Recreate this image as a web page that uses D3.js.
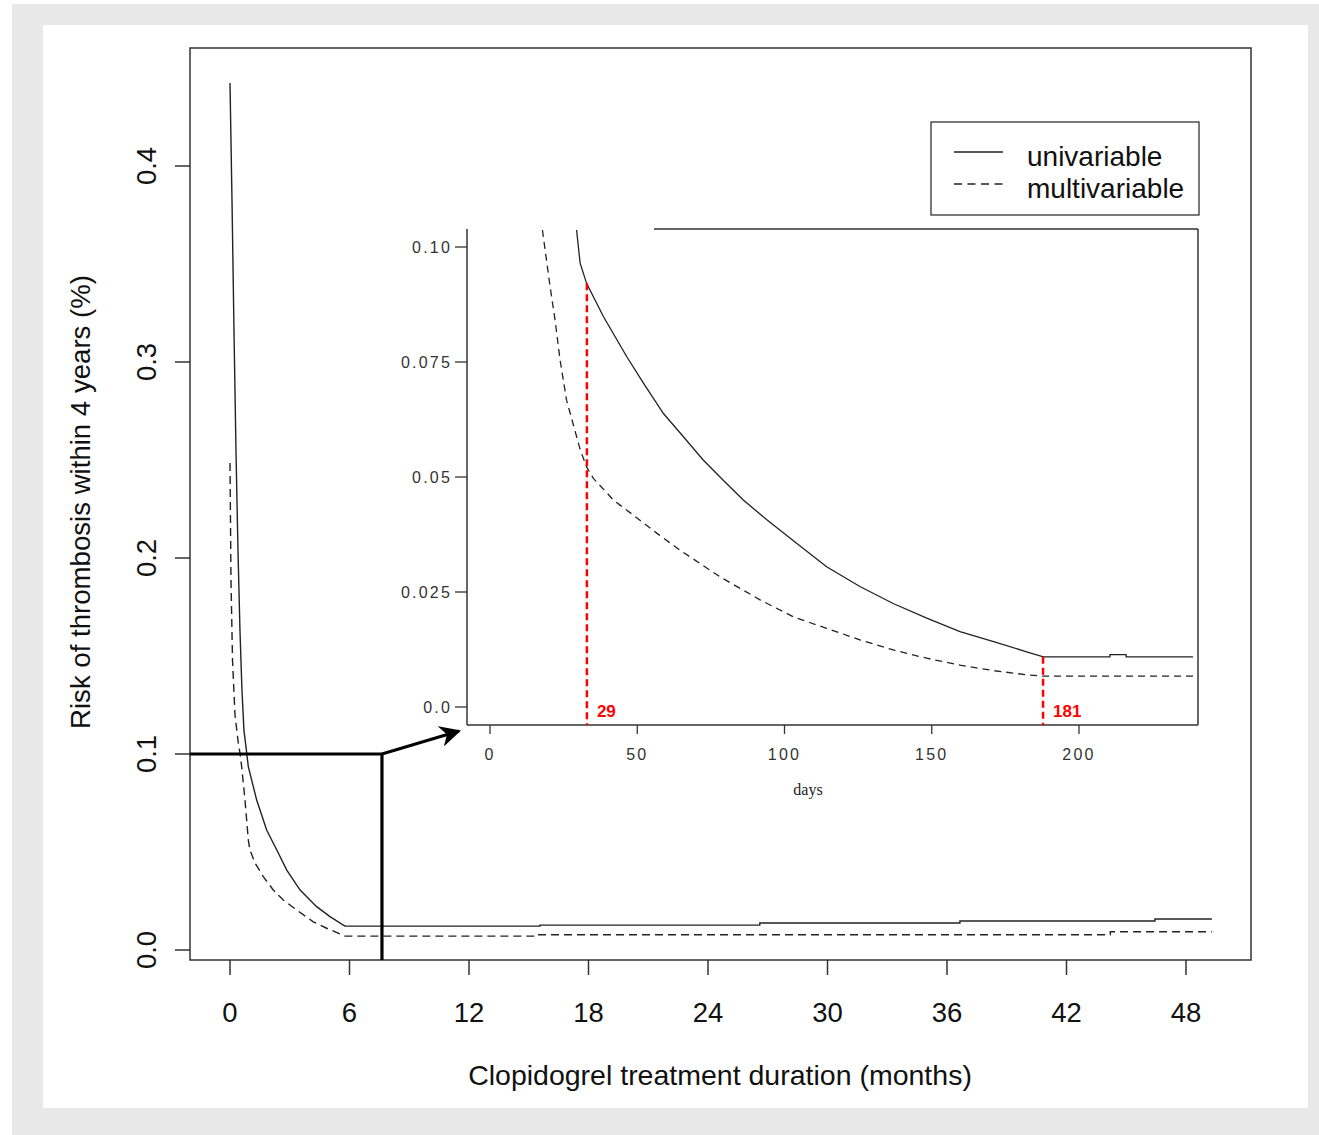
<!DOCTYPE html>
<html><head><meta charset="utf-8">
<script src="https://cdn.jsdelivr.net/npm/d3@7"></script>
<style>body{margin:0;background:#fff}svg{display:block}</style>
</head><body>
<script>
// ---------- data ----------
const mainXTicks = [0, 6, 12, 18, 24, 30, 36, 42, 48];
const mainYTicks = [0.0, 0.1, 0.2, 0.3, 0.4];
const mainYTickLabels = ["0.0", "0.1", "0.2", "0.3", "0.4"];
// main chart: months, risk
const uniMonths = [0, 0.10, 0.20, 0.30, 0.40, 0.50, 0.60, 0.70, 0.84, 0.92, 1.34, 1.84, 2.35, 2.85, 3.52, 4.35, 5.02, 5.77, 15.56, 15.56, 26.6, 26.6, 36.65, 36.65, 46.44, 46.44, 49.3];
const uniRisk   = [0.4423, 0.3827, 0.3163, 0.2551, 0.2041, 0.1633, 0.1327, 0.1122, 0.1004, 0.0935, 0.0765, 0.0612, 0.0510, 0.0408, 0.0306, 0.0221, 0.0170, 0.0122, 0.0122, 0.0127, 0.0127, 0.0138, 0.0138, 0.0148, 0.0148, 0.0158, 0.0158];
const multiMonths = [0, 0.05, 0.126, 0.251, 0.417, 0.50, 0.587, 0.753, 0.919, 1.00, 1.255, 1.672, 2.174, 2.676, 3.349, 4.182, 4.855, 5.774, 15.5, 15.5, 44.2, 44.2, 49.3];
const multiRisk   = [0.2485, 0.1888, 0.1480, 0.1199, 0.1056, 0.1005, 0.0935, 0.0765, 0.0561, 0.0510, 0.0444, 0.0374, 0.0306, 0.0255, 0.0204, 0.0144, 0.0111, 0.0071, 0.0071, 0.0078, 0.0078, 0.0093, 0.0093];
// inset: days, risk
const insetXTicks = [0, 50, 100, 150, 200];
const insetYTicks = [0.0, 0.025, 0.05, 0.075, 0.10];
const insetYTickLabels = ["0.0", "0.025", "0.05", "0.075", "0.10"];
const insetUniDays = [29.4, 30.6, 32.8, 38.5, 46.4, 52.1, 58.9, 65.6, 72.4, 79.2, 86.0, 94.0, 104.1, 114.3, 125.6, 136.9, 148.3, 159.6, 171.0, 182.2, 187.9, 210.5, 210.5, 216.0, 216.0, 238.7];
const insetUniRisk = [0.1037, 0.0965, 0.0921, 0.0849, 0.0762, 0.0704, 0.0638, 0.0588, 0.0537, 0.0493, 0.0450, 0.0407, 0.0356, 0.0305, 0.0262, 0.0225, 0.0193, 0.0164, 0.0142, 0.0120, 0.0109, 0.0109, 0.0114, 0.0114, 0.0109, 0.0109];
const insetMultiDays = [17.8, 20.4, 22.1, 23.8, 26.0, 29.4, 30.6, 32.8, 35.1, 41.9, 48.7, 56.6, 64.5, 71.3, 78.1, 91.7, 103.0, 114.3, 125.6, 136.9, 148.3, 159.6, 171.0, 182.2, 187.9, 238.7];
const insetMultiRisk = [0.1037, 0.0914, 0.0841, 0.0754, 0.0667, 0.0588, 0.0560, 0.0522, 0.0497, 0.0450, 0.0417, 0.0378, 0.0341, 0.0312, 0.0283, 0.0233, 0.0196, 0.0171, 0.0146, 0.0124, 0.0106, 0.0091, 0.0079, 0.0070, 0.0067, 0.0067];
const cutoffDays = [32.9, 187.8];
const cutoffLabels = ["29", "181"];
const cutoffRiskUni = [0.0921, 0.0109];
const zoomMonths = 7.63, zoomRisk = 0.1;
const legendLabels = ["univariable", "multivariable"];

// ---------- drawing ----------
const SANS = "Liberation Sans, Arial, sans-serif";
const W = 1319, H = 1135;
const svg = d3.select("body").append("svg").attr("width", W).attr("height", H).style("font-family", SANS);
svg.append("rect").attr("x", 12).attr("y", 4).attr("width", W - 12).attr("height", H - 4).attr("fill", "#e8e8e8");
svg.append("rect").attr("x", 43).attr("y", 25).attr("width", 1308 - 43).attr("height", 1108 - 25).attr("fill", "#fff");

const x = d3.scaleLinear().domain([0, 48]).range([230, 1186]);
const y = d3.scaleLinear().domain([0, 0.4]).range([950, 166]);
const box = {l: 190, t: 48, r: 1251, b: 960};
const axisCol = "#333";

svg.append("rect").attr("x", box.l).attr("y", box.t).attr("width", box.r - box.l).attr("height", box.b - box.t)
  .attr("fill", "none").attr("stroke", axisCol).attr("stroke-width", 1.5);

// main axes
const gx = svg.append("g");
mainXTicks.forEach(t => {
  gx.append("line").attr("x1", x(t)).attr("x2", x(t)).attr("y1", box.b).attr("y2", box.b + 15).attr("stroke", axisCol).attr("stroke-width", 1.5);
  gx.append("text").attr("x", x(t)).attr("y", 1022).attr("text-anchor", "middle").attr("font-size", 27.5).attr("fill", "#111").text(t);
});
const gy = svg.append("g");
mainYTicks.forEach((t, i) => {
  gy.append("line").attr("x1", box.l - 15).attr("x2", box.l).attr("y1", y(t)).attr("y2", y(t)).attr("stroke", axisCol).attr("stroke-width", 1.5);
  gy.append("text").attr("transform", `translate(156,${y(t)}) rotate(-90)`).attr("text-anchor", "middle").attr("font-size", 27.5).attr("fill", "#111").text(mainYTickLabels[i]);
});
svg.append("text").attr("x", 720).attr("y", 1085).attr("text-anchor", "middle").attr("font-size", 28.5).attr("fill", "#111").text("Clopidogrel treatment duration (months)");
svg.append("text").attr("transform", "translate(90,502) rotate(-90)").attr("text-anchor", "middle").attr("font-size", 27.6).attr("fill", "#111").text("Risk of thrombosis within 4 years (%)");

const line = d3.line().x(d => x(d[0])).y(d => y(d[1]));
svg.append("path").datum(uniMonths.map((m, i) => [m, uniRisk[i]])).attr("d", line).attr("fill", "none").attr("stroke", "#222").attr("stroke-width", 1.4);
svg.append("path").datum(multiMonths.map((m, i) => [m, multiRisk[i]])).attr("d", line).attr("fill", "none").attr("stroke", "#222").attr("stroke-width", 1.4).attr("stroke-dasharray", "8,5");

// zoom annotation
svg.append("line").attr("x1", box.l).attr("x2", x(zoomMonths)).attr("y1", y(zoomRisk)).attr("y2", y(zoomRisk)).attr("stroke", "#000").attr("stroke-width", 3.2);
svg.append("line").attr("x1", x(zoomMonths)).attr("x2", x(zoomMonths)).attr("y1", y(zoomRisk)).attr("y2", box.b).attr("stroke", "#000").attr("stroke-width", 3.2);

// inset
const ix = d3.scaleLinear().domain([0, 200]).range([490, 1079]);
const iy = d3.scaleLinear().domain([0, 0.1]).range([707, 247]);
const ib = {l: 467, t: 229, r: 1198, b: 725};
svg.append("defs").append("marker").attr("id", "arr").attr("viewBox", "0 0 10 10").attr("refX", 9).attr("refY", 5)
  .attr("markerWidth", 7).attr("markerHeight", 7).attr("markerUnits", "strokeWidth").attr("orient", "auto")
  .append("path").attr("d", "M0,0 L10,5 L0,10 L3,5 Z").attr("fill", "#000");
svg.append("line").attr("x1", x(zoomMonths)).attr("y1", y(zoomRisk)).attr("x2", ib.l - 8).attr("y2", ib.b + 6)
  .attr("stroke", "#000").attr("stroke-width", 3).attr("marker-end", "url(#arr)");

svg.append("line").attr("x1", ib.l).attr("x2", ib.l).attr("y1", ib.t).attr("y2", ib.b).attr("stroke", axisCol).attr("stroke-width", 1.5);
svg.append("line").attr("x1", ib.l).attr("x2", ib.r).attr("y1", ib.b).attr("y2", ib.b).attr("stroke", axisCol).attr("stroke-width", 1.5);
svg.append("line").attr("x1", ib.r).attr("x2", ib.r).attr("y1", ib.t).attr("y2", ib.b).attr("stroke", axisCol).attr("stroke-width", 1.5);
svg.append("line").attr("x1", 654).attr("x2", ib.r).attr("y1", ib.t).attr("y2", ib.t).attr("stroke", axisCol).attr("stroke-width", 1.5);
insetXTicks.forEach(t => {
  svg.append("line").attr("x1", ix(t)).attr("x2", ix(t)).attr("y1", ib.b).attr("y2", ib.b + 9).attr("stroke", axisCol).attr("stroke-width", 1.3);
  svg.append("text").attr("x", ix(t)).attr("y", 760).attr("text-anchor", "middle").attr("font-size", 16).attr("letter-spacing", 2.2).attr("fill", "#333").text(t);
});
insetYTicks.forEach((t, i) => {
  svg.append("line").attr("x1", ib.l - 12).attr("x2", ib.l).attr("y1", iy(t)).attr("y2", iy(t)).attr("stroke", axisCol).attr("stroke-width", 1.3);
  svg.append("text").attr("x", ib.l - 15).attr("y", iy(t) + 5.5).attr("text-anchor", "end").attr("font-size", 16).attr("letter-spacing", 2.2).attr("fill", "#333").text(insetYTickLabels[i]);
});
svg.append("text").attr("x", 808).attr("y", 795).attr("text-anchor", "middle").style("font-family", "Liberation Serif, Times New Roman, serif").attr("font-size", 16).attr("fill", "#222").text("days");

const iline = d3.line().x(d => ix(d[0])).y(d => iy(d[1]));
svg.append("path").datum(insetUniDays.map((m, i) => [m, insetUniRisk[i]])).attr("d", iline).attr("fill", "none").attr("stroke", "#222").attr("stroke-width", 1.3);
svg.append("path").datum(insetMultiDays.map((m, i) => [m, insetMultiRisk[i]])).attr("d", iline).attr("fill", "none").attr("stroke", "#222").attr("stroke-width", 1.3).attr("stroke-dasharray", "7,5");

cutoffDays.forEach((d, i) => {
  svg.append("line").attr("x1", ix(d)).attr("x2", ix(d)).attr("y1", iy(cutoffRiskUni[i])).attr("y2", ib.b)
    .attr("stroke", "#ff0000").attr("stroke-width", 2.5).attr("stroke-dasharray", "7,4");
  svg.append("text").attr("x", ix(d) + 10).attr("y", 717).attr("font-size", 17).attr("font-weight", "bold").attr("fill", "#ff0000").text(cutoffLabels[i]);
});

// legend
const lg = svg.append("g");
lg.append("rect").attr("x", 931).attr("y", 122).attr("width", 268).attr("height", 93).attr("fill", "#fff").attr("stroke", axisCol).attr("stroke-width", 1.3);
legendLabels.forEach((lab, i) => {
  const yy = 152 + i * 32;
  lg.append("line").attr("x1", 954).attr("x2", 1003).attr("y1", yy).attr("y2", yy).attr("stroke", "#222").attr("stroke-width", 1.3)
    .attr("stroke-dasharray", i ? "8,5.5" : null);
  lg.append("text").attr("x", 1027).attr("y", yy + 14).attr("font-size", 28).attr("fill", "#111").text(lab);
});
</script>
</body></html>
